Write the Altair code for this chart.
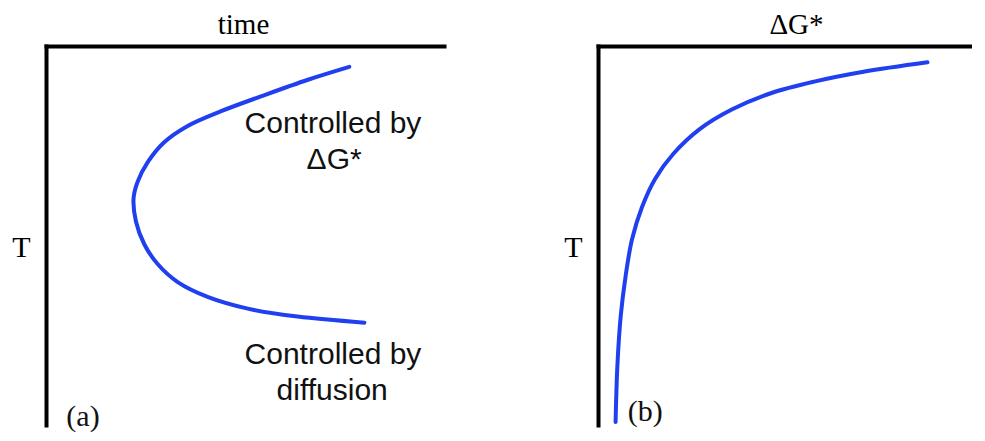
import altair as alt
import pandas as pd

# ---- panel (a): time vs T, C-shaped curve ----
a_time = [76.2, 65.8, 54.0, 44.0, 35.6, 29.7, 25.6, 23.0, 22.0, 22.6, 24.7, 28.1, 33.1, 40.6, 50.7, 63.2, 80.0]
a_T    = [94.5, 91.1, 86.7, 82.8, 78.9, 74.6, 69.4, 64.1, 59.8, 53.7, 47.7, 42.4, 37.7, 33.8, 30.7, 28.6, 27.0]

a_labels = ["Controlled by", "\u0394G*", "Controlled by", "diffusion"]
a_label_x = [72.1, 72.4, 72.1, 71.9]
a_label_T = [79.4, 69.8, 18.5, 9.1]

# ---- panel (b): dG* vs T ----
b_dg = [4.7, 5.2, 6.1, 7.4, 9.1, 11.8, 15.3, 20.1, 27.1, 35.9, 46.4, 57.8, 71.0, 88.1]
b_T  = [0.8, 16.0, 29.0, 39.4, 49.0, 57.6, 65.0, 71.5, 78.0, 83.3, 87.6, 90.6, 93.2, 95.7]

panel_tags = ["(a)", "(b)"]
tag_x = [9.3, 12.6]
tag_T = [2.1, 3.4]

BLUE = "#1f3ff0"
SERIF = "Liberation Serif"
SANS = "Liberation Sans"
FS = 30
TFS = 29


def axis_x(title, tx):
    return alt.Axis(orient="top", title=title, domain=True, domainColor="black",
                    domainWidth=4, domainCap="square", ticks=False, labels=False,
                    grid=False, titleFont=SERIF, titleFontSize=TFS,
                    titleFontWeight="normal", titleColor="black", titleX=tx,
                    titleY=-13, titleAlign="center", titleBaseline="alphabetic")


def axis_y(title):
    return alt.Axis(orient="left", title=title, domain=True, domainColor="black",
                    domainWidth=4, domainCap="square", ticks=False, labels=False,
                    grid=False, titleFont=SERIF, titleFontSize=FS,
                    titleFontWeight="normal", titleColor="black", titleAngle=0,
                    titleX=-25, titleY=210, titleAlign="center",
                    titleBaseline="alphabetic")


def panel(xs, ys, xtitle, tx, width, labels, tag_i):
    df = pd.DataFrame({"x": xs, "T": ys, "i": list(range(len(xs)))})
    xsc = alt.Scale(domain=[0, 100], nice=False, zero=False)
    ysc = alt.Scale(domain=[0, 100], nice=False, zero=False)
    line = alt.Chart(df).mark_line(color=BLUE, strokeWidth=4, interpolate="catmull-rom",
                                   strokeCap="round").encode(
        x=alt.X("x:Q", scale=xsc, axis=axis_x(xtitle, tx)),
        y=alt.Y("T:Q", scale=ysc, axis=axis_y("T")),
        order=alt.Order("i:Q"),
    )
    layers = [line]
    if labels is not None:
        ldf = pd.DataFrame({"x": labels[1], "T": labels[2], "txt": labels[0]})
        layers.append(alt.Chart(ldf).mark_text(font=SANS, fontSize=FS, color="#111111",
                                               align="center", baseline="middle").encode(
            x=alt.X("x:Q", scale=xsc), y=alt.Y("T:Q", scale=ysc), text="txt:N"))
    tdf = pd.DataFrame({"x": [tag_x[tag_i]], "T": [tag_T[tag_i]], "txt": [panel_tags[tag_i]]})
    layers.append(alt.Chart(tdf).mark_text(font=SERIF, fontSize=FS, color="#111111",
                                           align="center", baseline="middle").encode(
        x=alt.X("x:Q", scale=xsc), y=alt.Y("T:Q", scale=ysc), text="txt:N"))
    return alt.layer(*layers).properties(width=width, height=379)


left = panel(a_time, a_T, "time", 197, 398, (a_labels, a_label_x, a_label_T), 0)
right = panel(b_dg, b_T, "\u0394G*", 198, 374, None, 1)

chart = alt.hconcat(left, right, spacing=154, bounds="flush").properties(
    padding={"left": 3, "top": 2, "right": 0, "bottom": 0},
    background="white",
).configure_view(stroke="transparent", strokeWidth=0)

chart.save("out.html", embed_options={"renderer": "svg", "actions": False})
